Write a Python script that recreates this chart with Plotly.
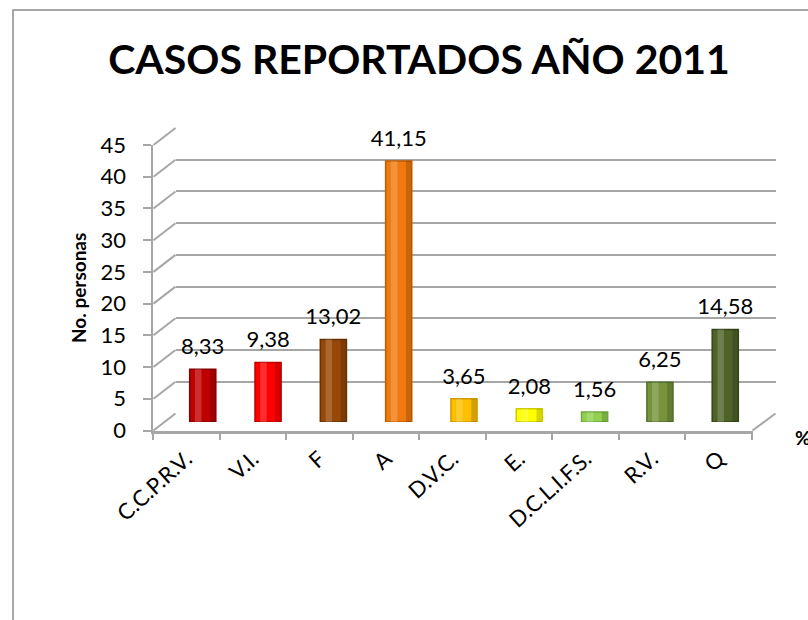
import plotly.graph_objects as go

categories = ["C.C.P.R.V.", "V.I.", "F", "A", "D.V.C.", "E.", "D.C.L.I.F.S.", "R.V.", "Q"]
values = [8.33, 9.38, 13.02, 41.15, 3.65, 2.08, 1.56, 6.25, 14.58]
labels = ["8,33", "9,38", "13,02", "41,15", "3,65", "2,08", "1,56", "6,25", "14,58"]
colors = ["#C00000", "#FF0000", "#974706", "#F07A10", "#FFC000", "#FFFF00", "#92D050", "#77933C", "#4F6228"]
edge_colors = ["#8A0000", "#C00000", "#6A3204", "#C05A00", "#D09A00", "#CCCC00", "#6EA83A", "#55702A", "#364418"]
y_ticks = [0, 5, 10, 15, 20, 25, 30, 35, 40, 45]

W, H = 808, 620
FONT = "Lato"
GRID = "#A6A6A6"


def px(x):
    return x / W


def py(y):
    return 1 - y / H


# front plane geometry (pixels) and depth shift
X0, X1 = 152.5, 752.5
Y0, YT = 430.5, 145.0
DX, DY = 23.0, 17.0
YMAX = 45


def ypix(v, shift=0.0):
    return Y0 - shift - (Y0 - YT) * v / YMAX


fig = go.Figure()

# invisible trace on the back wall axes so its gridlines are drawn
fig.add_trace(go.Scatter(x=categories, y=[None] * len(categories), xaxis="x2", yaxis="y2",
                         showlegend=False, hoverinfo="skip"))

# bars (cylinders) on the middle-depth plane
fig.add_trace(go.Bar(
    x=categories, y=values, xaxis="x3", yaxis="y3",
    marker=dict(color=colors, line=dict(color=edge_colors, width=1.5)),
    width=0.4, showlegend=False,
))
# cylinder shading: light highlight and darker right edge
fig.add_trace(go.Bar(
    x=categories, y=values, xaxis="x3", yaxis="y3",
    marker=dict(color="rgba(255,255,255,0.18)", line=dict(width=0)),
    width=0.1, offset=-0.12, showlegend=False, hoverinfo="skip",
))
fig.add_trace(go.Bar(
    x=categories, y=values, xaxis="x3", yaxis="y3",
    marker=dict(color="rgba(0,0,0,0.16)", line=dict(width=0)),
    width=0.08, offset=0.11, showlegend=False, hoverinfo="skip",
))
# value labels
fig.add_trace(go.Scatter(
    x=categories, y=values, xaxis="x3", yaxis="y3",
    mode="markers+text", text=labels, textposition="top center",
    marker=dict(size=14, opacity=0), cliponaxis=False,
    textfont=dict(family=FONT, size=22, color="#000000"),
    showlegend=False, hoverinfo="skip",
))

# front axes (invisible data, visible axis lines/ticks)
fig.add_trace(go.Scatter(x=categories, y=[None] * len(categories), xaxis="x", yaxis="y",
                         showlegend=False, hoverinfo="skip"))

shapes = []
# side wall diagonal lines
for v in y_ticks:
    shapes.append(dict(type="line", xref="paper", yref="paper",
                       x0=px(X0 + 1), y0=py(ypix(v)), x1=px(X0 + DX), y1=py(ypix(v, DY)),
                       line=dict(color=GRID, width=2)))
# floor right edge
shapes.append(dict(type="line", xref="paper", yref="paper",
                   x0=px(X1), y0=py(Y0), x1=px(X1 + DX), y1=py(Y0 - DY),
                   line=dict(color=GRID, width=2)))
# chart frame
shapes.append(dict(type="rect", xref="paper", yref="paper",
                   x0=px(13), y0=-0.2, x1=1.2, y1=py(10),
                   line=dict(color="#8C8C8C", width=1.5), fillcolor="rgba(0,0,0,0)", layer="below"))

fig.update_layout(
    template="none",
    width=W, height=H,
    margin=dict(l=0, r=0, t=0, b=0, pad=0),
    paper_bgcolor="white", plot_bgcolor="rgba(0,0,0,0)",
    font=dict(family=FONT, color="#000000"),
    showlegend=False,
    barmode="overlay",
    title=dict(text="<b>CASOS REPORTADOS AÑO 2011</b>", x=419 / W, y=py(60),
               xanchor="center", yanchor="middle",
               font=dict(family=FONT, size=41, color="#000000")),
    xaxis=dict(domain=[px(X0), px(X1)], anchor="y", type="category", automargin=False,
               showgrid=False, showline=True, linecolor=GRID, linewidth=3,
               ticks="outside", tickson="boundaries", ticklen=6, tickcolor=GRID, tickwidth=2,
               ticklabelstandoff=4,
               tickangle=-42, tickfont=dict(family=FONT, size=22)),
    yaxis=dict(domain=[py(Y0), py(YT)], anchor="x", range=[0, YMAX], automargin=False,
               tickvals=y_ticks, showgrid=False, zeroline=False,
               showline=True, linecolor=GRID, linewidth=2,
               ticks="outside", ticklen=8, tickcolor=GRID, tickwidth=2,
               ticklabelstandoff=12,
               tickfont=dict(family=FONT, size=22)),
    xaxis2=dict(domain=[px(X0 + DX), px(X1 + DX)], anchor="y2", type="category", automargin=False,
                showgrid=False, showline=False, showticklabels=False, ticks=""),
    yaxis2=dict(domain=[py(Y0 - DY), py(YT - DY)], anchor="x2", range=[0, YMAX], automargin=False,
                tickvals=y_ticks, showgrid=True, gridcolor=GRID, gridwidth=2,
                zeroline=False, showline=False, showticklabels=False, ticks=""),
    xaxis3=dict(domain=[px(X0 + DX / 2), px(X1 + DX / 2)], anchor="y3", type="category", automargin=False,
                showgrid=False, showline=False, showticklabels=False, ticks=""),
    yaxis3=dict(domain=[py(Y0 - DY / 2), py(YT - DY / 2)], anchor="x3", range=[0, YMAX], automargin=False,
                showgrid=False, zeroline=False, showline=False, showticklabels=False, ticks=""),
    shapes=shapes,
    annotations=[
        dict(text="<b>No. personas</b>", xref="paper", yref="paper", x=px(78), y=py(288),
             xanchor="center", yanchor="middle",
             textangle=-90, showarrow=False, font=dict(family=FONT, size=19)),
        dict(text="<b>%</b>", xref="paper", yref="paper", x=px(793), y=py(437),
             xanchor="left", yanchor="middle", showarrow=False, font=dict(family=FONT, size=19)),
    ],
)

fig.write_html("out.html", config={"displayModeBar": False},
               post_script="document.body.style.margin='0px';document.body.style.overflow='hidden';")
